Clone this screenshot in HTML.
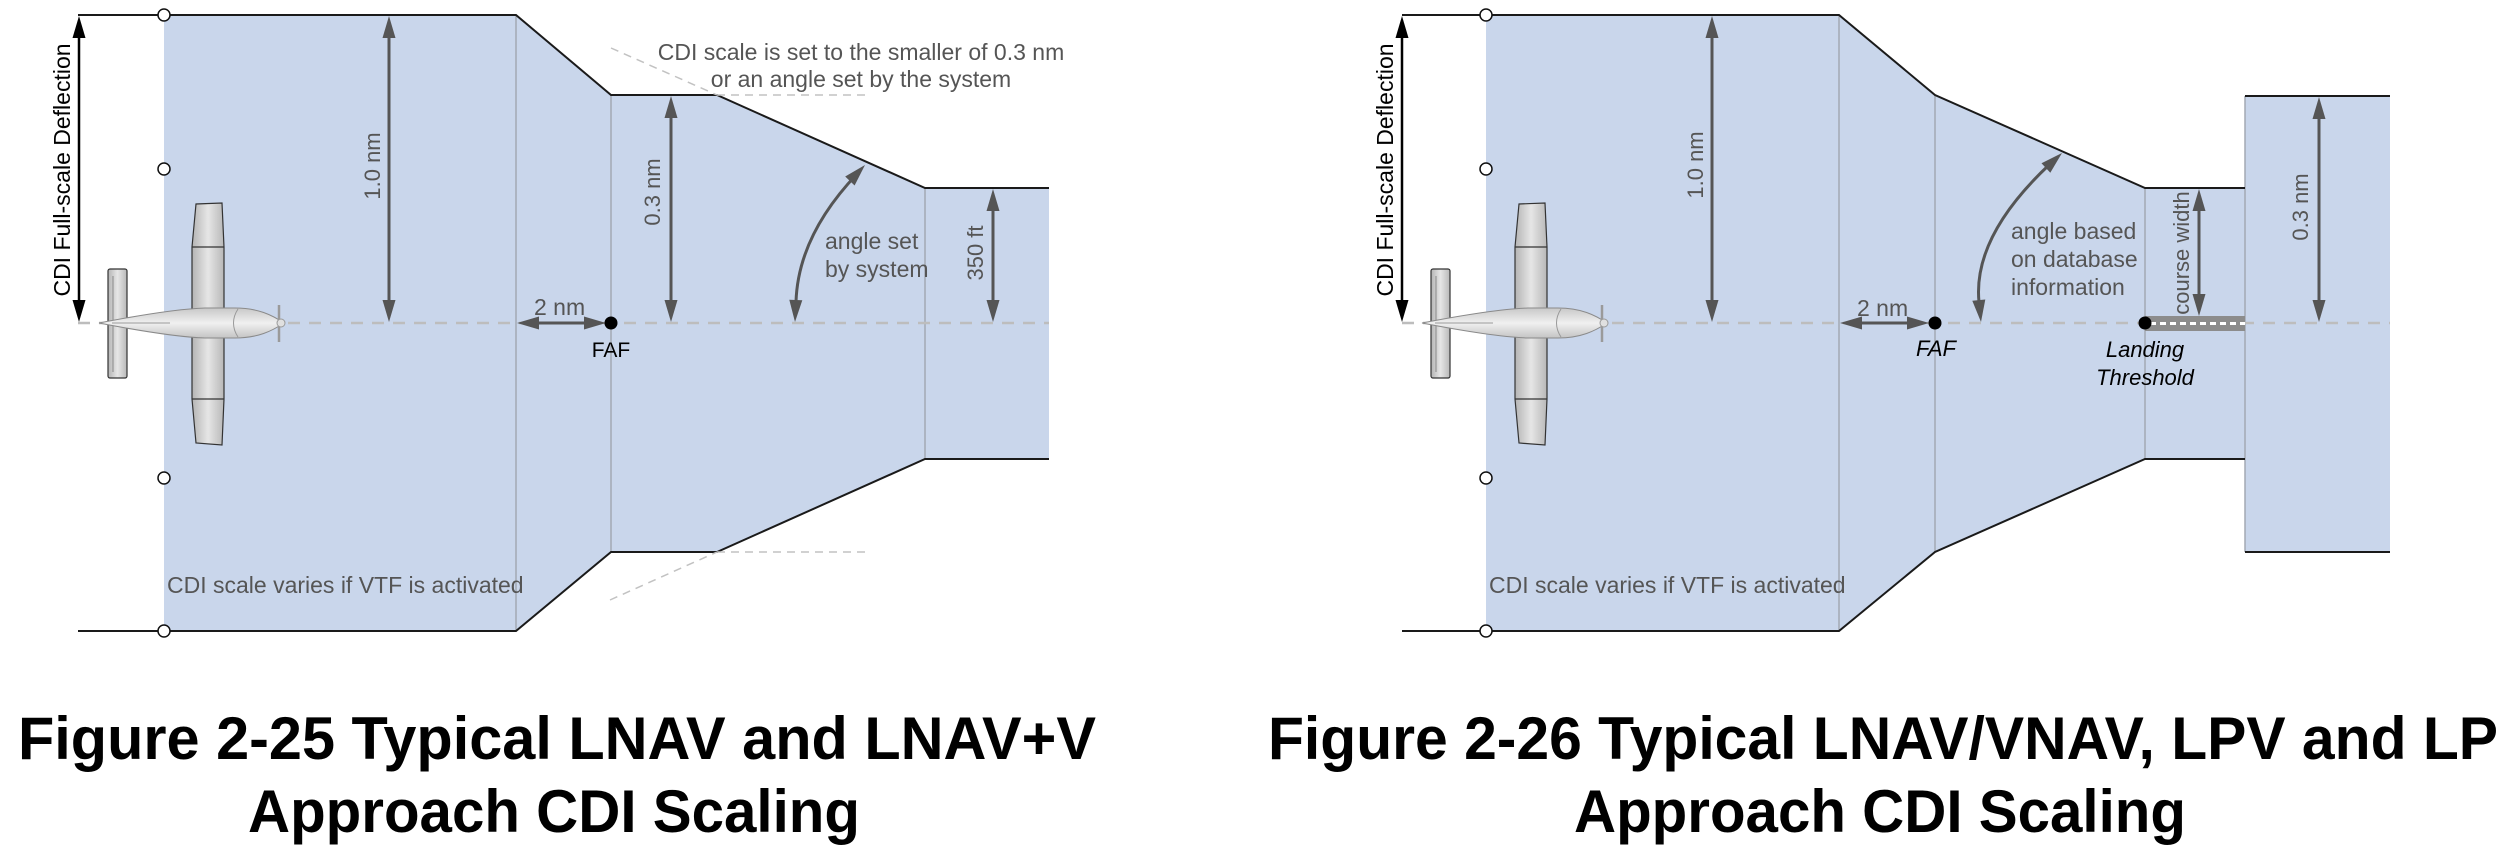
<!DOCTYPE html>
<html><head><meta charset="utf-8"><style>
html,body{margin:0;padding:0;background:#fff;}
svg{display:block;}
text{font-family:"Liberation Sans",Arial,sans-serif;}
</style></head><body>
<svg width="2508" height="852" viewBox="0 0 2508 852" xmlns="http://www.w3.org/2000/svg">
<defs>
 <linearGradient id="gWing" x1="0" y1="0" x2="1" y2="0">
  <stop offset="0" stop-color="#b4b4b4"/><stop offset="0.5" stop-color="#e6e6e6"/><stop offset="1" stop-color="#b8b8b8"/>
 </linearGradient>
 <linearGradient id="gFus" x1="0" y1="0" x2="0" y2="1">
  <stop offset="0" stop-color="#c8c8c8"/><stop offset="0.5" stop-color="#f0f0f0"/><stop offset="1" stop-color="#c4c4c4"/>
 </linearGradient>
 <g id="plane">
  <rect x="108" y="269" width="19" height="109" rx="2" fill="url(#gWing)" stroke="#333" stroke-width="1.2"/>
  <line x1="113" y1="276" x2="113" y2="372" stroke="#777" stroke-width="0.8"/>
  <path d="M192,312 L192,247 L196,204 L222,203 L224,247 L224,312 Z" fill="url(#gWing)" stroke="#333" stroke-width="1.2"/>
  <line x1="192" y1="247" x2="224" y2="247" stroke="#333" stroke-width="1.2"/>
  <path d="M192,334 L192,399 L196,443 L222,445 L224,399 L224,334 Z" fill="url(#gWing)" stroke="#333" stroke-width="1.2"/>
  <line x1="192" y1="399" x2="224" y2="399" stroke="#333" stroke-width="1.2"/>
  <path d="M99,323 C130,317 175,309 205,308 L235,308 C258,308 272,315 284,323 C272,331 258,338 235,338 L205,338 C175,337 130,329 99,323 Z" fill="url(#gFus)" stroke="#8a8a8a" stroke-width="1"/>
  <path d="M238,309 C232,318 232,328 238,337" stroke="#999" stroke-width="1" fill="none"/>
  <line x1="112" y1="323" x2="170" y2="323" stroke="#999" stroke-width="1"/>
  <line x1="279" y1="305" x2="279" y2="342" stroke="#9a9a9a" stroke-width="2.5"/>
  <ellipse cx="281" cy="323" rx="4" ry="4" fill="#e0e0e0" stroke="#999" stroke-width="1"/>
 </g>
</defs>

<!-- ================= LEFT DIAGRAM ================= -->
<polygon points="164,15 516,15 611,95 717,95 925,188 1049,188 1049,459 925,459 717,552 611,552 516,631 164,631" fill="#c9d6eb"/>
<g stroke="#a3a9b3" stroke-width="1.5">
 <line x1="516" y1="15" x2="516" y2="631"/>
 <line x1="611" y1="95" x2="611" y2="552"/>
 <line x1="925" y1="188" x2="925" y2="459"/>
</g>
<g fill="none" stroke="#1a1a1a" stroke-width="2">
 <polyline points="78,15 516,15 611,95 717,95 925,188 1049,188"/>
 <polyline points="78,631 516,631 611,552 717,552 925,459 1049,459"/>
</g>
<g fill="none" stroke="#c2c2c2" stroke-width="1.5" stroke-dasharray="8 6">
 <line x1="611" y1="48" x2="717" y2="95"/>
 <line x1="717" y1="95" x2="866" y2="95"/>
 <line x1="610" y1="600" x2="717" y2="552"/>
 <line x1="717" y1="552" x2="866" y2="552"/>
</g>
<line x1="78" y1="323" x2="1049" y2="323" stroke="#bdbdbd" stroke-width="2.5" stroke-dasharray="12 9"/>
<g fill="#fff" stroke="#111" stroke-width="1.5">
 <circle cx="164" cy="15" r="6"/><circle cx="164" cy="169" r="6"/><circle cx="164" cy="478" r="6"/><circle cx="164" cy="631" r="6"/>
</g>
<use href="#plane"/>
<!-- arrows left -->
<g stroke="#000" stroke-width="2.5" fill="#000">
 <path d="M79,36V302" fill="none"/>
 <path d="M79,16L72.5,38L85.5,38Z" stroke="none"/><path d="M79,322L72.5,300L85.5,300Z" stroke="none"/>
</g>
<g stroke="#555" stroke-width="3" fill="#555">
 <path d="M389,36V302" fill="none"/>
 <path d="M389,16L382.5,38L395.5,38Z" stroke="none"/><path d="M389,322L382.5,300L395.5,300Z" stroke="none"/>
 <path d="M671,116V302" fill="none"/>
 <path d="M671,96L664.5,118L677.5,118Z" stroke="none"/><path d="M671,322L664.5,300L677.5,300Z" stroke="none"/>
 <path d="M993,209V302" fill="none"/>
 <path d="M993,189L986.5,211L999.5,211Z" stroke="none"/><path d="M993,322L986.5,300L999.5,300Z" stroke="none"/>
 <path d="M537,323H586" fill="none"/>
 <path d="M517,323L539,316.5L539,329.5Z" stroke="none"/><path d="M606,323L584,316.5L584,329.5Z" stroke="none"/>
 <path d="M796,302 Q798,236 857,174" fill="none"/>
 <path d="M795,322L802.3,300.2L789.3,299.8Z" stroke="none"/>
 <path d="M865,165L854.6,185.5L845.2,176.5Z" stroke="none"/>
</g>
<circle cx="611" cy="323" r="6.5" fill="#000"/>
<!-- texts left -->
<text transform="translate(70,170) rotate(-90)" text-anchor="middle" font-size="23" fill="#000">CDI Full-scale Deflection</text>
<g fill="#555" font-size="22">
 <text transform="translate(380,166) rotate(-90)" text-anchor="middle">1.0 nm</text>
 <text transform="translate(660,192) rotate(-90)" text-anchor="middle">0.3 nm</text>
 <text transform="translate(983,253) rotate(-90)" text-anchor="middle">350 ft</text>
</g>
<g fill="#555" font-size="23">
 <text x="861" y="60" text-anchor="middle">CDI scale is set to the smaller of 0.3 nm</text>
 <text x="861" y="87" text-anchor="middle">or an angle set by the system</text>
 <text x="825" y="249">angle set</text>
 <text x="825" y="277">by system</text>
 <text x="534" y="315">2 nm</text>
 <text x="167" y="593">CDI scale varies if VTF is activated</text>
</g>
<text x="611" y="357" text-anchor="middle" font-size="21" fill="#000">FAF</text>

<!-- ================= RIGHT DIAGRAM ================= -->
<polygon points="1486,15 1839,15 1935,95 2145,188 2245,188 2245,96 2390,96 2390,552 2245,552 2245,459 2145,459 1935,552 1839,631 1486,631" fill="#c9d6eb"/>
<g stroke="#a3a9b3" stroke-width="1.5">
 <line x1="1839" y1="15" x2="1839" y2="631"/>
 <line x1="1935" y1="95" x2="1935" y2="552"/>
 <line x1="2145" y1="188" x2="2145" y2="459"/>
 <line x1="2245" y1="96" x2="2245" y2="552"/>
</g>
<g fill="none" stroke="#1a1a1a" stroke-width="2">
 <polyline points="1402,15 1839,15 1935,95 2145,188 2245,188"/>
 <polyline points="1402,631 1839,631 1935,552 2145,459 2245,459"/>
 <line x1="2245" y1="96" x2="2390" y2="96"/>
 <line x1="2245" y1="552" x2="2390" y2="552"/>
</g>
<line x1="1402" y1="323" x2="2390" y2="323" stroke="#bdbdbd" stroke-width="2.5" stroke-dasharray="12 9"/>
<rect x="2145" y="316" width="100" height="15" fill="#8c8c8c"/>
<line x1="2150" y1="323.5" x2="2245" y2="323.5" stroke="#fff" stroke-width="3" stroke-dasharray="6 4"/>
<g fill="#fff" stroke="#111" stroke-width="1.5">
 <circle cx="1486" cy="15" r="6"/><circle cx="1486" cy="169" r="6"/><circle cx="1486" cy="478" r="6"/><circle cx="1486" cy="631" r="6"/>
</g>
<use href="#plane" transform="translate(1323,0)"/>
<g stroke="#000" stroke-width="2.5" fill="#000">
 <path d="M1402,36V302" fill="none"/>
 <path d="M1402,16L1395.5,38L1408.5,38Z" stroke="none"/><path d="M1402,322L1395.5,300L1408.5,300Z" stroke="none"/>
</g>
<g stroke="#555" stroke-width="3" fill="#555">
 <path d="M1712,36V302" fill="none"/>
 <path d="M1712,16L1705.5,38L1718.5,38Z" stroke="none"/><path d="M1712,322L1705.5,300L1718.5,300Z" stroke="none"/>
 <path d="M1860,323H1909" fill="none"/>
 <path d="M1840,323L1862,316.5L1862,329.5Z" stroke="none"/><path d="M1929,323L1907,316.5L1907,329.5Z" stroke="none"/>
 <path d="M2199,209V296" fill="none"/>
 <path d="M2199,189L2192.5,211L2205.5,211Z" stroke="none"/><path d="M2199,316L2192.5,294L2205.5,294Z" stroke="none"/>
 <path d="M2319,117V302" fill="none"/>
 <path d="M2319,97L2312.5,119L2325.5,119Z" stroke="none"/><path d="M2319,322L2312.5,300L2325.5,300Z" stroke="none"/>
 <path d="M1979,302 Q1972.5,236.5 2050,164" fill="none"/>
 <path d="M1981,322L1985.3,299.5L1972.3,300.7Z" stroke="none"/>
 <path d="M2062,153L2050.3,172.8L2041.5,163.2Z" stroke="none"/>
</g>
<circle cx="1935" cy="323" r="6.5" fill="#000"/>
<circle cx="2145" cy="323" r="6.5" fill="#000"/>
<text transform="translate(1393,170) rotate(-90)" text-anchor="middle" font-size="23" fill="#000">CDI Full-scale Deflection</text>
<g fill="#555" font-size="22">
 <text transform="translate(1703,165) rotate(-90)" text-anchor="middle">1.0 nm</text>
 <text transform="translate(2189,253) rotate(-90)" text-anchor="middle">course width</text>
 <text transform="translate(2308,207) rotate(-90)" text-anchor="middle">0.3 nm</text>
</g>
<g fill="#555" font-size="23">
 <text x="2011" y="239">angle based</text>
 <text x="2011" y="267">on database</text>
 <text x="2011" y="295">information</text>
 <text x="1857" y="316">2 nm</text>
 <text x="1489" y="593">CDI scale varies if VTF is activated</text>
</g>
<g fill="#000" font-size="22" font-style="italic" text-anchor="middle">
 <text x="1936" y="356">FAF</text>
 <text x="2145" y="357">Landing</text>
 <text x="2145" y="385">Threshold</text>
</g>

<!-- ================= TITLES ================= -->
<g font-weight="bold" font-size="60" fill="#000">
 <text x="18" y="759" textLength="1078" lengthAdjust="spacingAndGlyphs">Figure 2-25 Typical LNAV and LNAV+V</text>
 <text x="248" y="832" textLength="612" lengthAdjust="spacingAndGlyphs">Approach CDI Scaling</text>
 <text x="1268" y="759" textLength="1230" lengthAdjust="spacingAndGlyphs">Figure 2-26 Typical LNAV/VNAV, LPV and LP</text>
 <text x="1574" y="832" textLength="612" lengthAdjust="spacingAndGlyphs">Approach CDI Scaling</text>
</g>
</svg>
</body></html>
